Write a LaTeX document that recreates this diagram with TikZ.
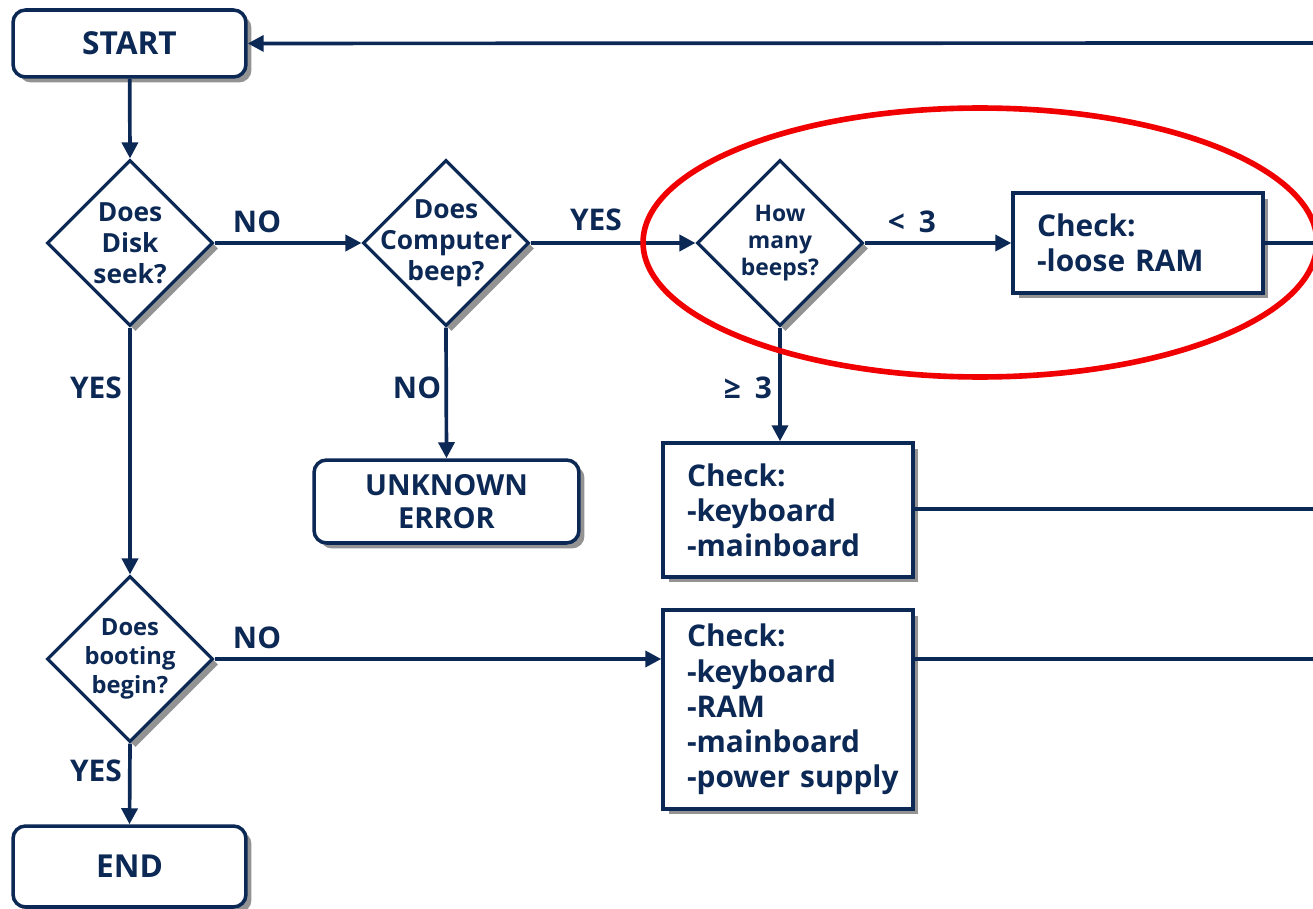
\documentclass[tikz,border=0pt]{standalone}
\usepackage{fontspec}
\setmainfont{Open Sans}[WordSpace=1.8]
\usetikzlibrary{shapes.geometric,arrows.meta,shadows}
\definecolor{navy}{RGB}{12,40,84}
\definecolor{ringred}{RGB}{240,0,0}
\begin{document}
\begin{tikzpicture}[x=0.02cm,y=-0.02cm,
  font=\bfseries\fontsize{17}{20}\selectfont,
  every node/.style={text=navy},
  shade/.style={drop shadow={shadow xshift=0.11cm,shadow yshift=-0.11cm,fill=gray!85,opacity=1}},
  term/.style={draw=navy,line width=2pt,fill=white,rounded corners=0.25cm,
    minimum width=4.66cm,minimum height=1.34cm,inner sep=0pt,align=center,shade},
  dia/.style={diamond,draw=navy,line width=1.8pt,fill=white,minimum width=3.32cm,
    minimum height=3.32cm,inner sep=0pt,shade},
  dtext/.style={align=center,font=\bfseries\fontsize{15}{17.6}\selectfont,text=navy},
  dsmall/.style={align=center,font=\bfseries\fontsize{13}{15.3}\selectfont,text=navy},
  dmid/.style={align=center,font=\bfseries\fontsize{13.5}{16.4}\selectfont,text=navy},
  chk/.style={draw=navy,line width=2pt,fill=white,minimum width=5cm,
    text width=4.04cm,inner xsep=0.48cm,align=left,shade},
  flow/.style={draw=navy,line width=2.1pt},
  arr/.style={flow,-{Triangle[length=0.32cm,width=0.32cm]}},
  lbl/.style={text=navy}]
\useasboundingbox (0,0) rectangle (1313,909);

% terminals
\node[term,font=\bfseries\fontsize{18}{20}\selectfont] (start) at (129.5,43.5) {START};
\node[term,minimum width=5.3cm,minimum height=1.66cm,
  font=\bfseries\fontsize{16.5}{18.7}\selectfont] (unk) at (446.5,501.5) {UNKNOWN\\ERROR};
\node[term,minimum height=1.62cm,font=\bfseries\fontsize{18}{20}\selectfont] (end) at (129.5,866.5) {END};

% decisions
\node[dia,label={[dtext]center:Does\\Disk\\seek?}] (d1) at (130,243) {};
\node[dia,label={[dtext]center:Does\\Computer\\beep?}] (d2) at (446,243) {};
\node[dia,label={[dsmall]center:How\\many\\beeps?}] (d3) at (780,243) {};
\node[dia,label={[dmid]center:Does\\booting\\begin?}] (d4) at (130,659) {};

% check lists
\node[chk,minimum height=2cm] (b1) at (1138,243) {Check:\\\mbox{-loose RAM}};
\node[chk,minimum height=2.68cm] (b2) at (788,510) {Check:\\-keyboard\\-mainboard};
\node[chk,minimum height=3.98cm] (b3) at (788,709.5)
  {Check:\\-keyboard\\-RAM\\-mainboard\\\mbox{-power supply}};

% loose ends running off to the right
\coordinate (rtop) at (1313,43);
\coordinate (r1) at (1313,243);
\coordinate (r2) at (1313,509);
\coordinate (r3) at (1313,659);

% connectors
\draw[arr] (rtop) -- (start);
\draw[arr] (start) -- (d1.north);
\draw[arr] (d1.east) -- (d2.west);
\draw[arr] (d2.east) -- (d3.west);
\draw[arr] (d3.east) -- (b1.west);
\draw[flow] (b1.east) -- (r1);
\draw[arr] (d3.south) -- (d3.south |- b2.north);
\draw[flow] (b2.east |- r2) -- (r2);
\draw[arr] (d2.south) -- (unk.north);
\draw[arr] (d1.south) -- (d4.north);
\draw[arr] (d4.east) -- (d4.east -| b3.west);
\draw[flow] (b3.east |- r3) -- (r3);
\draw[arr] (d4.south) -- (end.north);

% branch labels
\node[lbl] (n1) at (257,222) {NO};
\node[lbl] (y1) at (596,220) {YES};
\node[lbl] (lt) at (912,222) {< 3};
\node[lbl] (ge) at (748,388) {≥ 3};
\node[lbl] (n2) at (417,388) {NO};
\node[lbl] (y2) at (96,388) {YES};
\node[lbl] (n3) at (257,638) {NO};
\node[lbl] (y3) at (96,771) {YES};

% highlight ring
\draw[ringred,line width=3.2pt] (980,242.5) ellipse [x radius=6.74cm,y radius=2.69cm];
\end{tikzpicture}
\end{document}
